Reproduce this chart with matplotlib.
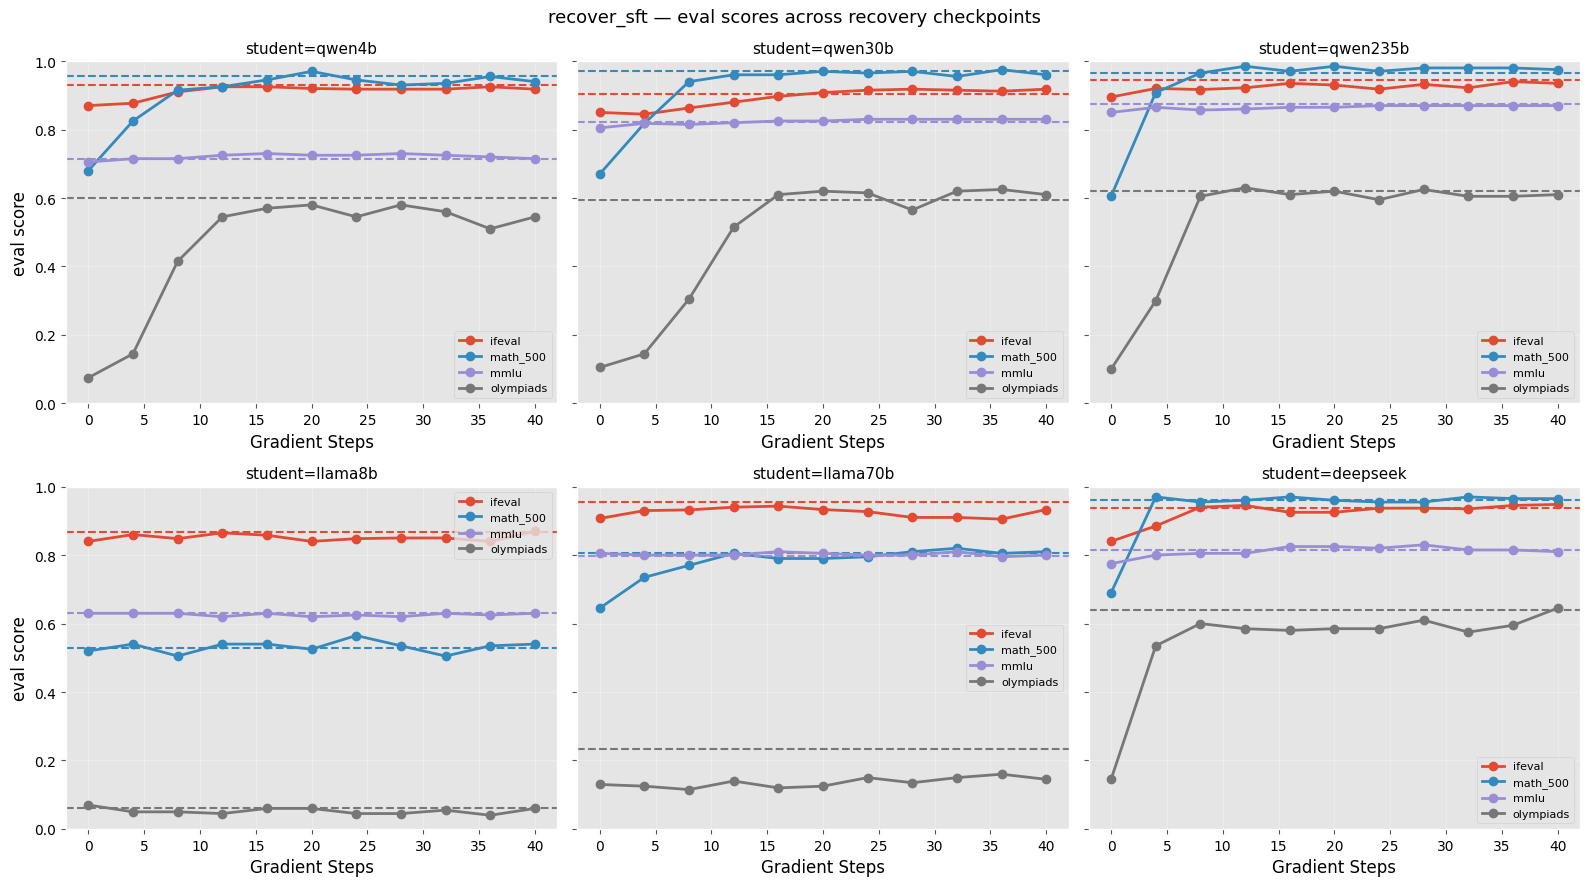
import matplotlib
matplotlib.use("Agg")
import matplotlib.pyplot as plt

plt.style.use('ggplot')

# === DATA ===
steps = [0, 4, 8, 12, 16, 20, 24, 28, 32, 36, 40]
benchmarks = ["ifeval", "math_500", "mmlu", "olympiads"]
students = ["qwen4b", "qwen30b", "qwen235b", "llama8b", "llama70b", "deepseek"]

qwen4b_ifeval = [0.870, 0.877, 0.910, 0.925, 0.925, 0.920, 0.918, 0.918, 0.918, 0.925, 0.918]
qwen4b_math_500 = [0.680, 0.825, 0.915, 0.925, 0.945, 0.970, 0.945, 0.930, 0.935, 0.955, 0.940]
qwen4b_mmlu = [0.705, 0.715, 0.715, 0.725, 0.730, 0.725, 0.725, 0.730, 0.725, 0.720, 0.715]
qwen4b_olympiads = [0.075, 0.145, 0.415, 0.545, 0.570, 0.580, 0.545, 0.580, 0.560, 0.510, 0.545]
qwen4b_base = [0.930, 0.955, 0.715, 0.600]

qwen30b_ifeval = [0.850, 0.845, 0.863, 0.880, 0.897, 0.908, 0.915, 0.918, 0.915, 0.912, 0.918]
qwen30b_math_500 = [0.670, 0.818, 0.940, 0.960, 0.960, 0.970, 0.965, 0.970, 0.955, 0.975, 0.960]
qwen30b_mmlu = [0.805, 0.818, 0.815, 0.820, 0.825, 0.825, 0.830, 0.830, 0.830, 0.830, 0.830]
qwen30b_olympiads = [0.105, 0.145, 0.305, 0.515, 0.610, 0.620, 0.615, 0.565, 0.620, 0.625, 0.610]
qwen30b_base = [0.903, 0.970, 0.822, 0.595]

qwen235b_ifeval = [0.895, 0.920, 0.917, 0.922, 0.935, 0.930, 0.918, 0.932, 0.922, 0.940, 0.935]
qwen235b_math_500 = [0.605, 0.908, 0.965, 0.985, 0.970, 0.985, 0.970, 0.980, 0.980, 0.980, 0.975]
qwen235b_mmlu = [0.850, 0.865, 0.857, 0.860, 0.865, 0.865, 0.870, 0.870, 0.870, 0.870, 0.870]
qwen235b_olympiads = [0.100, 0.300, 0.605, 0.630, 0.610, 0.620, 0.595, 0.625, 0.605, 0.605, 0.610]
qwen235b_base = [0.945, 0.965, 0.875, 0.620]

llama8b_ifeval = [0.840, 0.860, 0.848, 0.865, 0.858, 0.840, 0.848, 0.850, 0.850, 0.840, 0.870]
llama8b_math_500 = [0.520, 0.540, 0.505, 0.540, 0.540, 0.525, 0.565, 0.535, 0.505, 0.535, 0.540]
llama8b_mmlu = [0.630, 0.630, 0.630, 0.620, 0.630, 0.620, 0.625, 0.620, 0.630, 0.625, 0.630]
llama8b_olympiads = [0.070, 0.050, 0.050, 0.045, 0.060, 0.060, 0.045, 0.045, 0.055, 0.040, 0.060]
llama8b_base = [0.868, 0.530, 0.632, 0.062]

llama70b_ifeval = [0.907, 0.930, 0.932, 0.940, 0.943, 0.933, 0.927, 0.910, 0.910, 0.905, 0.933]
llama70b_math_500 = [0.645, 0.735, 0.770, 0.805, 0.790, 0.790, 0.795, 0.810, 0.820, 0.805, 0.810]
llama70b_mmlu = [0.805, 0.800, 0.800, 0.800, 0.810, 0.805, 0.800, 0.800, 0.810, 0.795, 0.800]
llama70b_olympiads = [0.130, 0.125, 0.115, 0.140, 0.120, 0.125, 0.150, 0.135, 0.150, 0.160, 0.145]
llama70b_base = [0.955, 0.806, 0.796, 0.235]

deepseek_ifeval = [0.840, 0.885, 0.940, 0.945, 0.925, 0.925, 0.937, 0.937, 0.935, 0.945, 0.948]
deepseek_math_500 = [0.690, 0.970, 0.955, 0.960, 0.970, 0.960, 0.955, 0.955, 0.970, 0.965, 0.965]
deepseek_mmlu = [0.775, 0.800, 0.805, 0.805, 0.825, 0.825, 0.820, 0.830, 0.815, 0.815, 0.810]
deepseek_olympiads = [0.145, 0.535, 0.600, 0.585, 0.580, 0.585, 0.585, 0.610, 0.575, 0.595, 0.645]
deepseek_base = [0.938, 0.962, 0.815, 0.640]

scores = {
    "qwen4b": [qwen4b_ifeval, qwen4b_math_500, qwen4b_mmlu, qwen4b_olympiads],
    "qwen30b": [qwen30b_ifeval, qwen30b_math_500, qwen30b_mmlu, qwen30b_olympiads],
    "qwen235b": [qwen235b_ifeval, qwen235b_math_500, qwen235b_mmlu, qwen235b_olympiads],
    "llama8b": [llama8b_ifeval, llama8b_math_500, llama8b_mmlu, llama8b_olympiads],
    "llama70b": [llama70b_ifeval, llama70b_math_500, llama70b_mmlu, llama70b_olympiads],
    "deepseek": [deepseek_ifeval, deepseek_math_500, deepseek_mmlu, deepseek_olympiads],
}
baselines = {
    "qwen4b": qwen4b_base, "qwen30b": qwen30b_base, "qwen235b": qwen235b_base,
    "llama8b": llama8b_base, "llama70b": llama70b_base, "deepseek": deepseek_base,
}

legend_locs = {
    "qwen4b": "lower right", "qwen30b": "lower right", "qwen235b": "lower right",
    "llama8b": "upper right", "llama70b": "center right", "deepseek": "lower right",
}

colors = plt.rcParams['axes.prop_cycle'].by_key()['color']
bench_colors = [colors[0], colors[1], colors[2], colors[3]]

fig, axes = plt.subplots(2, 3, figsize=(15.9, 8.87), dpi=100, sharey=True)
fig.subplots_adjust(left=0.0415, right=0.9937, top=0.930, bottom=0.0643,
                    wspace=0.041, hspace=0.243)

for ax, student in zip(axes.flat, students):
    for i, bench in enumerate(benchmarks):
        ax.plot(steps, scores[student][i], marker='o', color=bench_colors[i],
                linewidth=2, markersize=6, label=bench)
        ax.axhline(baselines[student][i], color=bench_colors[i],
                   linestyle='--', linewidth=1.5)
    ax.set_title(f"student={student}", fontsize=11, color='black')
    ax.set_xlabel("Gradient Steps", fontsize=12, color='black')
    ax.set_ylim(0, 1)
    ax.set_xticks(range(0, 41, 5))
    ax.grid(True, alpha=0.3)
    ax.tick_params(labelsize=10, labelcolor='black')
    ax.legend(loc=legend_locs[student], fontsize=8)

axes[0, 0].set_ylabel("eval score", fontsize=12, color='black')
axes[1, 0].set_ylabel("eval score", fontsize=12, color='black')

fig.suptitle("recover_sft — eval scores across recovery checkpoints", fontsize=13, y=0.99)
fig.savefig("out.png", dpi=100)
